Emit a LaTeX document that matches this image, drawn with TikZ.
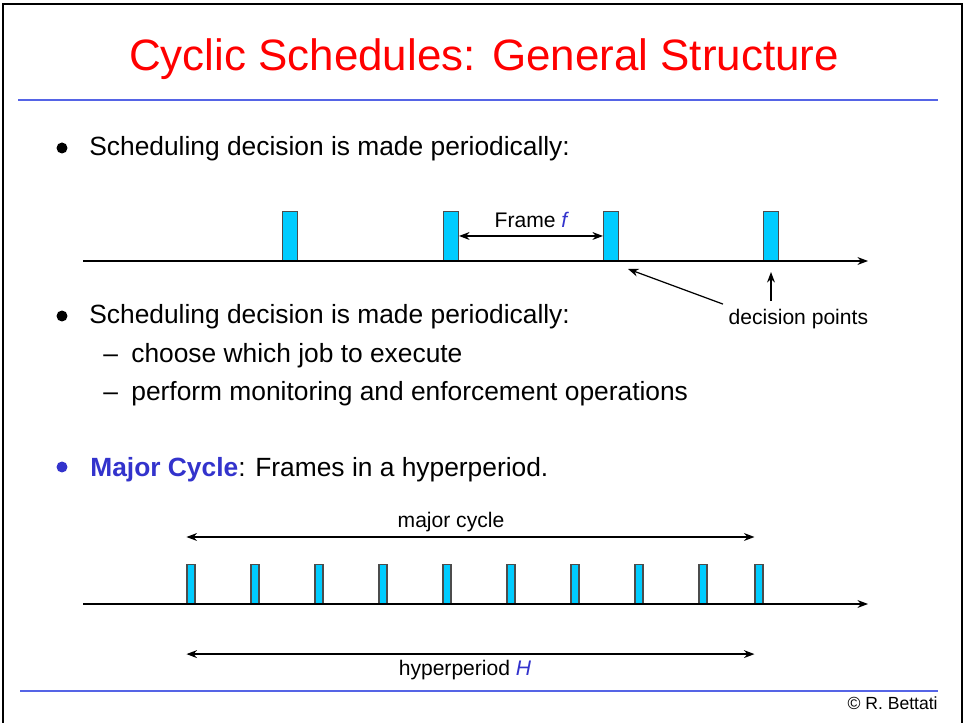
\documentclass[tikz,border=0pt]{standalone}
\usepackage{fontspec}
\setmainfont{Liberation Sans}
\usetikzlibrary{arrows.meta}
\definecolor{titlered}{RGB}{255,0,0}
\definecolor{ruleblue}{RGB}{85,100,230}
\definecolor{slotcyan}{RGB}{0,204,255}
\definecolor{keyblue}{RGB}{51,51,204}
\tikzset{
  body/.style={anchor=base west, inner sep=0pt, font=\fontsize{15}{18}\selectfont},
  tag/.style={inner sep=3pt, font=\fontsize{12}{14}\selectfont},
  dot/.style={circle, fill, inner sep=0pt, minimum size=0.22cm},
  slot/.style={draw=gray!60!black, fill=slotcyan, line width=0.6pt, anchor=south, inner sep=0pt, minimum width=0.3cm, minimum height=0.98cm},
  thinslot/.style={slot, minimum width=0.16cm, minimum height=0.78cm},
  dart/.style={-{Stealth[length=6pt,width=4.5pt]}, line width=0.7pt},
  twodart/.style={{Stealth[length=6pt,width=4.5pt]}-{Stealth[length=6pt,width=4.5pt]}, line width=0.7pt}
}
\begin{document}
\begin{tikzpicture}[x=0.02cm, y=-0.02cm]
\useasboundingbox (0,0) rectangle (965,723);
\draw[line width=1.7pt] (3,723) -- (3,4) -- (962,4) -- (962,723);
\node[anchor=base, inner sep=0pt, text=titlered, font=\fontsize{25}{30}\selectfont] (title) at (484,71) {Cyclic Schedules: General Structure};
\draw[ruleblue, line width=1.5pt] (18,100) -- (938,100);
\draw[ruleblue, line width=1.5pt] (20,691) -- (938,691);
% first bullet and the frame picture
\node[dot] (b1) at (62,148) {};
\node[body] (t1) at (89,156) {Scheduling decision is made periodically:};
\foreach \i [count=\n] in {290,451,611,771}
  \node[slot] (s\n) at (\i,261) {};
\coordinate (ax1s) at (83,261);
\coordinate (ax1e) at (868,261);
\draw[dart] (ax1s) -- (ax1e);
\draw[twodart] (s2.east) -- (s3.west);
\node[tag, anchor=base] (fr) at (531,228) {Frame \textcolor{keyblue}{\itshape f}};
\node[tag, anchor=base west] (dp) at (723,325) {decision points};
\coordinate (s3foot) at ([shift={(0.18cm,-0.16cm)}]s3.south east);
\draw[dart] (dp.north west) -- (s3foot);
\draw[dart] ([yshift=0.06cm]s4.south |- dp.north) -- ([yshift=-0.22cm]s4.south);
% second bullet
\node[dot] (b2) at (62,316) {};
\node[body] (t2) at (89,324) {Scheduling decision is made periodically:};
\node[body] (d1) at (103,362) {--};
\node[body] (t3) at (131,362) {choose which job to execute};
\node[body] (d2) at (103,400) {--};
\node[body] (t4) at (131,400) {perform monitoring and enforcement operations};
% third bullet and the major cycle
\node[dot, keyblue] (b3) at (62,467) {};
\node[body] (t5) at (90,477) {\textcolor{keyblue}{\bfseries Major Cycle}: Frames in a hyperperiod.};
\foreach \i [count=\n] in {191,255,319,383,447,511,575,639,703,759}
  \node[thinslot] (m\n) at (\i,604) {};
\coordinate (ax2s) at (83,604);
\coordinate (ax2e) at (868,604);
\draw[dart] (ax2s) -- (ax2e);
\node[tag, anchor=base] (mc) at (451,527) {major cycle};
\draw[twodart] (m1.west |- mc.south) -- (m10.west |- mc.south);
\node[tag, anchor=base] (hp) at (465,675) {hyperperiod \textcolor{keyblue}{\itshape H}};
\draw[twodart] (m1.west |- hp.north) -- (m10.west |- hp.north);
\node[anchor=base east, inner sep=0pt, font=\fontsize{10}{12}\selectfont] (copy) at (938,709) {© R. Bettati};
\end{tikzpicture}
\end{document}
